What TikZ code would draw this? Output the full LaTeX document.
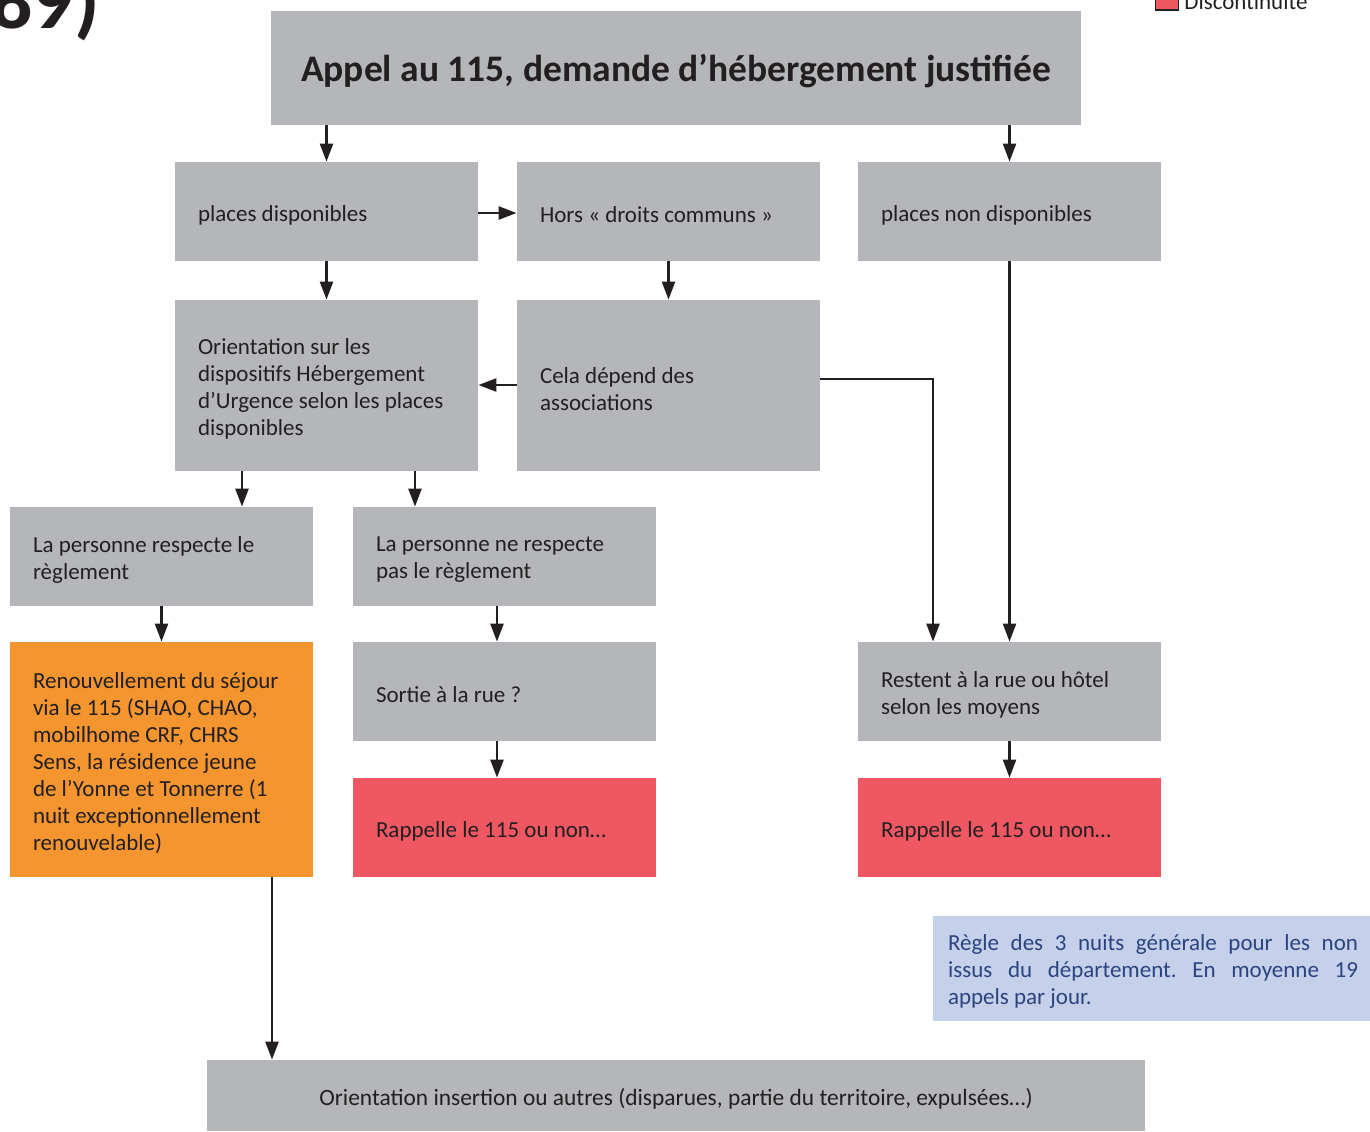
\documentclass[tikz,border=0pt]{standalone}
\usepackage{fontspec}
\setmainfont{Carlito}
\usetikzlibrary{arrows.meta}
\definecolor{boxgray}{RGB}{181,182,186}
\definecolor{boxorange}{RGB}{244,149,48}
\definecolor{boxred}{RGB}{239,88,98}
\definecolor{boxblue}{RGB}{197,208,234}
\definecolor{txt}{RGB}{35,31,32}
\definecolor{bluetxt}{RGB}{43,68,128}
\tikzset{
  boxshape/.style={fill=boxgray, inner sep=0pt, minimum width=151.5pt, minimum height=49.5pt},
  boxtext/.style={text=txt, align=flush left, inner sep=0pt, text width=128.5pt,
    font=\fontsize{11.5}{13.5}\selectfont},
  arr/.style={line width=1.2pt, draw=txt, -{Triangle[length=9pt,width=6.5pt]}},
}
\newcommand{\flowbox}[4][]{%
  \node[boxshape,#1] (#2) at (#3) {};
  \node[boxtext] (#2-t) at ([yshift=-1.75pt]#2.center) {#4};}
\begin{document}
\frenchspacing
\begin{tikzpicture}[x=0.5pt,y=-0.5pt]
\useasboundingbox (0,0) rectangle (1370,1131);
% corner fragments
\node[anchor=base west, inner sep=0pt, text=txt, font=\fontsize{41}{44}\selectfont\bfseries] (num) at (-9,28) {89)};
\node[draw=txt, line width=0.8pt, fill=boxred, minimum width=11.5pt, minimum height=8pt, inner sep=0pt] (legsq) at (1167,2) {};
\node[anchor=base west, inner sep=0pt, text=txt, font=\fontsize{11.5}{13}\selectfont] (legtx) at (1184,9) {Discontinuité};
% title
\node[fill=boxgray, minimum width=405pt, minimum height=57pt, inner sep=0pt] (title) at (676,68) {};
\node[text=txt, inner sep=0pt, font=\fontsize{18.75}{22}\selectfont\bfseries] (title-t) at ([yshift=-1.5pt]title.center) {Appel au 115, demande d’hébergement justifiée};
% row 1
\flowbox{pd}{326.5,211.5}{places disponibles}
\flowbox{hors}{668.5,211.5}{Hors « droits communs »}
\flowbox{pnd}{1009.5,211.5}{places non disponibles}
% row 2
\flowbox[minimum height=85.5pt]{orient}{326.5,385.5}{Orientation sur les\\dispositifs Hébergement\\d’Urgence selon les places\\disponibles}
\flowbox[minimum height=85.5pt]{cela}{668.5,385.5}{Cela dépend des\\associations}
% row 3
\flowbox{resp}{161.5,556.5}{La personne respecte le\\règlement}
\flowbox{nresp}{504.5,556.5}{La personne ne respecte\\pas le règlement}
% row 4
\flowbox[fill=boxorange, minimum height=117.5pt]{renouv}{161.5,759.5}{Renouvellement du séjour\\via le 115 (SHAO, CHAO,\\mobilhome CRF, CHRS\\Sens, la résidence jeune\\de l’Yonne et Tonnerre (1\\nuit exceptionnellement\\renouvelable)}
\flowbox{sortie}{504.5,691.5}{Sortie à la rue ?}
\flowbox{restent}{1009.5,691.5}{Restent à la rue ou hôtel\\selon les moyens}
% row 5
\flowbox[fill=boxred]{rap1}{504.5,827.5}{Rappelle le 115 ou non…}
\flowbox[fill=boxred]{rap2}{1009.5,827.5}{Rappelle le 115 ou non…}
% note
\node[fill=boxblue, minimum width=218.5pt, minimum height=52.5pt, inner sep=0pt] (regle) at (1151.5,968.5) {};
\node[text=bluetxt, inner sep=0pt, text width=205pt, align=justify, font=\fontsize{11.5}{13.5}\selectfont] (regle-t) at ([xshift=0.75pt,yshift=-1.5pt]regle.center)
  {Règle des 3 nuits générale pour les non\linebreak issus du département. En moyenne 19\linebreak appels par jour.};
% bottom
\node[fill=boxgray, minimum width=469pt, minimum height=35.5pt, inner sep=0pt] (bottom) at (676,1095.5) {};
\node[text=txt, inner sep=0pt, font=\fontsize{11.7}{13.5}\selectfont] (bottom-t) at ([yshift=-1.5pt]bottom.center) {Orientation insertion ou autres (disparues, partie du territoire, expulsées…)};
% helper coordinates
\coordinate (x242) at (242,0);
\coordinate (x415) at (415,0);
\coordinate (x272) at (272,0);
\coordinate (x497) at (497,0);
\coordinate (x933) at (933,0);
\coordinate (y379) at (0,379);
\coordinate (y213) at (0,213);
\coordinate (y385) at (0,385);
% arrows
\draw[arr] (title.south -| pd.north) -- (pd.north);
\draw[arr] (title.south -| pnd.north) -- (pnd.north);
\draw[arr] (pd.east |- y213) -- (hors.west |- y213);
\draw[arr] (pd.south) -- (orient.north);
\draw[arr] (hors.south) -- (cela.north);
\draw[arr] (cela.west |- y385) -- (orient.east |- y385);
\draw[arr] (cela.east |- y379) -| (restent.north -| x933);
\draw[arr] (pnd.south) -- (restent.north);
\draw[arr] (orient.south -| x242) -- (resp.north -| x242);
\draw[arr] (orient.south -| x415) -- (nresp.north -| x415);
\draw[arr] (resp.south) -- (renouv.north);
\draw[arr] (nresp.south -| x497) -- (sortie.north -| x497);
\draw[arr] (sortie.south -| x497) -- (rap1.north -| x497);
\draw[arr] (restent.south) -- (rap2.north);
\draw[arr] (renouv.south -| x272) -- (bottom.north -| x272);
\end{tikzpicture}
\end{document}
